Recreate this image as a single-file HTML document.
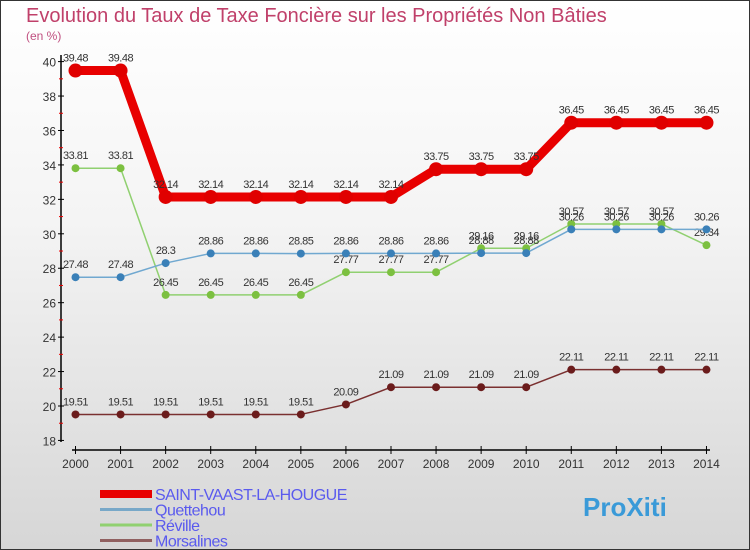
<!DOCTYPE html>
<html><head><meta charset="utf-8"><style>
body{margin:0}
#c{width:750px;height:550px;position:relative;background:linear-gradient(#ffffff,#f4f4f4 40%,#d6d6d6);border:1px solid #333;box-sizing:border-box;overflow:hidden;font-family:"Liberation Sans",sans-serif}
</style></head><body>
<div id="c">
<svg id="s" width="750" height="550" style="position:absolute;left:-1px;top:-1px">
<text x="26" y="22" font-size="20" fill="#c0406a">Evolution du Taux de Taxe Foncière sur les Propriétés Non Bâties</text>
<text x="26" y="40" font-size="12" fill="#c05080">(en %)</text>
</svg>
</div>
<script>
const years=[2000,2001,2002,2003,2004,2005,2006,2007,2008,2009,2010,2011,2012,2013,2014];
const yTicks=[18,20,22,24,26,28,30,32,34,36,38,40];
const saint=[39.48,39.48,32.14,32.14,32.14,32.14,32.14,32.14,33.75,33.75,33.75,36.45,36.45,36.45,36.45];
const quet=[27.48,27.48,28.3,28.86,28.86,28.85,28.86,28.86,28.86,28.88,28.88,30.26,30.26,30.26,30.26];
const revi=[33.81,33.81,26.45,26.45,26.45,26.45,27.77,27.77,27.77,29.16,29.16,30.57,30.57,30.57,29.34];
const mors=[19.51,19.51,19.51,19.51,19.51,19.51,20.09,21.09,21.09,21.09,21.09,22.11,22.11,22.11,22.11];
const names=["SAINT-VAAST-LA-HOUGUE","Quettehou","Réville","Morsalines"];
const s=document.getElementById('s');const NS="http://www.w3.org/2000/svg";
const X=y=>75.5+(y-2000)*45.07;const Y=v=>406-(v-20)*17.22;
function el(t,a,p){const e=document.createElementNS(NS,t);for(const k in a)e.setAttribute(k,a[k]);(p||s).appendChild(e);return e;}
let e=el('line',{x1:61,y1:55,x2:61,y2:442,stroke:'#000','stroke-width':1.5});


yTicks.forEach((v,i)=>{
 let t=el('line',{x1:58,x2:64,y1:Y(v),y2:Y(v),stroke:'#000'});
 
 
 if(i<yTicks.length-1){
  let m=el('line',{x1:59,x2:63,y1:Y(v+1),y2:Y(v+1),stroke:'#e00'});
  
  
 }
 let l=el('text',{x:56,y:Y(v)+5,'text-anchor':'end','font-size':12,fill:'#333'});l.textContent=v;
 
 
});
e=el('line',{x1:72,y1:450,x2:710,y2:450,stroke:'#000','stroke-width':1.5});


years.forEach(y=>{
 let t=el('line',{x1:X(y),x2:X(y),y1:446,y2:454,stroke:'#000'});
 
 
 let l=el('text',{x:X(y),y:468,'text-anchor':'middle','font-size':12,fill:'#333'});l.textContent=y;
 
 
});
function series(d,col,dot,w,r,nm){
 const g=el('g',{});
 
 
 let p=el('polyline',{points:d.map((v,i)=>X(years[i])+','+Y(v)).join(' '),fill:'none',stroke:col,'stroke-width':w,'stroke-linejoin':'round'},g);
 
 
 d.forEach((v,i)=>{
  let c=el('circle',{cx:X(years[i]),cy:Y(v),r:r,fill:dot},g);
  
  
  let t=el('text',{x:X(years[i]),y:Y(v)-9,'text-anchor':'middle','font-size':11,fill:'#333','letter-spacing':'-0.5'},g);t.textContent=v;
  
  
 });
}
series(mors,'#7a3030','#6b1c1c',1.5,4,'morsalines');
series(revi,'#90d070','#7cc040',1.5,4,'reville');
series(quet,'#70a8d0','#3a80b8',1.5,4,'quettehou');
series(saint,'#e80000','#e00000',9,7,'saint-vaast');
const lc=['#e80000','#78a8c8','#90d070','#906060'],lw=[8,3,3,3];
names.forEach((n,i)=>{
 const y=494+i*15.5;
 let l=el('line',{x1:100,x2:152,y1:y,y2:y,stroke:lc[i],'stroke-width':lw[i]});
 
 
 let t=el('text',{x:155,y:y+6,'font-size':16,fill:'#5a5aee','letter-spacing':'-0.5'});t.textContent=n;
 
 
});
let lg=el('text',{x:583,y:516,'font-size':26,'font-weight':'bold',fill:'#3a9ad8'});lg.textContent='ProXiti';


</script>
</body></html>
